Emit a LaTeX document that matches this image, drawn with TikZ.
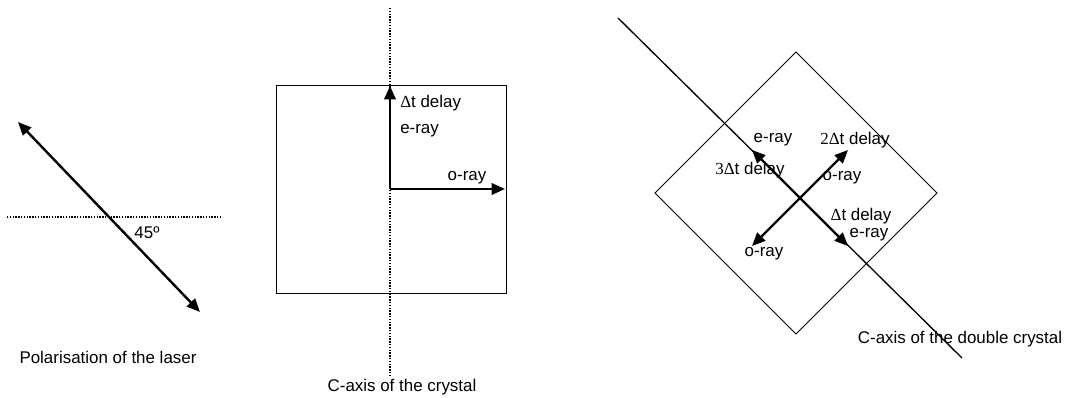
\documentclass[tikz,border=0pt]{standalone}
\usepackage{fontspec}
\setmainfont{Liberation Sans}
\newfontfamily\numfont{Liberation Serif}
\usetikzlibrary{arrows.meta,positioning}

\begin{document}
\begin{tikzpicture}[
    x=0.75pt, y=-0.75pt,
    lbl/.style={inner sep=0pt, font=\fontsize{12.7}{15}\selectfont},
    axis/.style={densely dotted, line width=1.1pt},
    box/.style={draw, line width=0.7pt, minimum size=#1, inner sep=0pt},
    arr/.style={-{Triangle[length=10pt,width=8.5pt]}, line width=1.8pt},
    dbl/.style={{Triangle[length=10pt,width=8.5pt]}-{Triangle[length=10pt,width=8.5pt]}, line width=1.8pt}
]
    \useasboundingbox (0,0) rectangle (1067,398);

    % laser polarisation
    \coordinate (h1) at (7,217);
    \coordinate (h2) at (220,217);
    \coordinate (pol1) at (18,122);
    \coordinate (pol2) at (200,312);
    \draw [axis] (h1) -- (h2);
    \draw [dbl] (pol1) -- (pol2);
    \node [lbl] (ang) at (147,233) {45º};
    \node [lbl] (laser) at (108,357) {Polarisation of the laser};

    % single crystal
    \node [box=0pt, minimum width=172.5pt, minimum height=156pt] (crystal) at (391,189) {};
    \coordinate (v1) at (390,8);
    \coordinate (v2) at (390,377);
    \draw [axis] (v1) -- (v2);
    \coordinate (o1) at (390,189);
    \coordinate (e1) at (390,86);
    \coordinate (r1) at (505,189);
    \draw [arr] (o1) -- (e1);
    \draw [arr] (o1) -- (r1);
    \node [lbl, anchor=west] (dly1) at (400,103) {\numfont Δ\rmfamily t delay};
    \node [lbl, anchor=west] (ray1) at (400,131) {e-ray};
    \node [lbl] (ray2) at (467,178) {o-ray};
    \node [lbl] (caxis1) at (402,387) {C-axis of the crystal};

    % double crystal
    \node [box=149.6pt, rotate=45] (dcrystal) at (796,193) {};
    \coordinate (d1) at (618,18);
    \coordinate (d2) at (962,358);
    \draw [line width=1pt] (d1) -- (d2);
    \coordinate (o2) at (800,198);
    \coordinate (ea) at (752,150);
    \coordinate (eb) at (848,246);
    \coordinate (oa) at (848,150);
    \coordinate (ob) at (752,246);
    \draw [dbl] (ea) -- (eb);
    \draw [dbl] (oa) -- (ob);
    \node [lbl] (ray3) at (773,140) {e-ray};
    \node [lbl] (dly2) at (855,140) {\numfont 2Δ\rmfamily t delay};
    \node [lbl] (dly3) at (750,170) {\numfont 3Δ\rmfamily t delay};
    \node [lbl] (ray4) at (842,178) {o-ray};
    \node [lbl] (dly4) at (861,216) {\numfont Δ\rmfamily t delay};
    \node [lbl] (ray5) at (869,235) {e-ray};
    \node [lbl] (ray6) at (764,254) {o-ray};
    \node [lbl] (caxis2) at (960,339) {C-axis of the double crystal};
\end{tikzpicture}
\end{document}
